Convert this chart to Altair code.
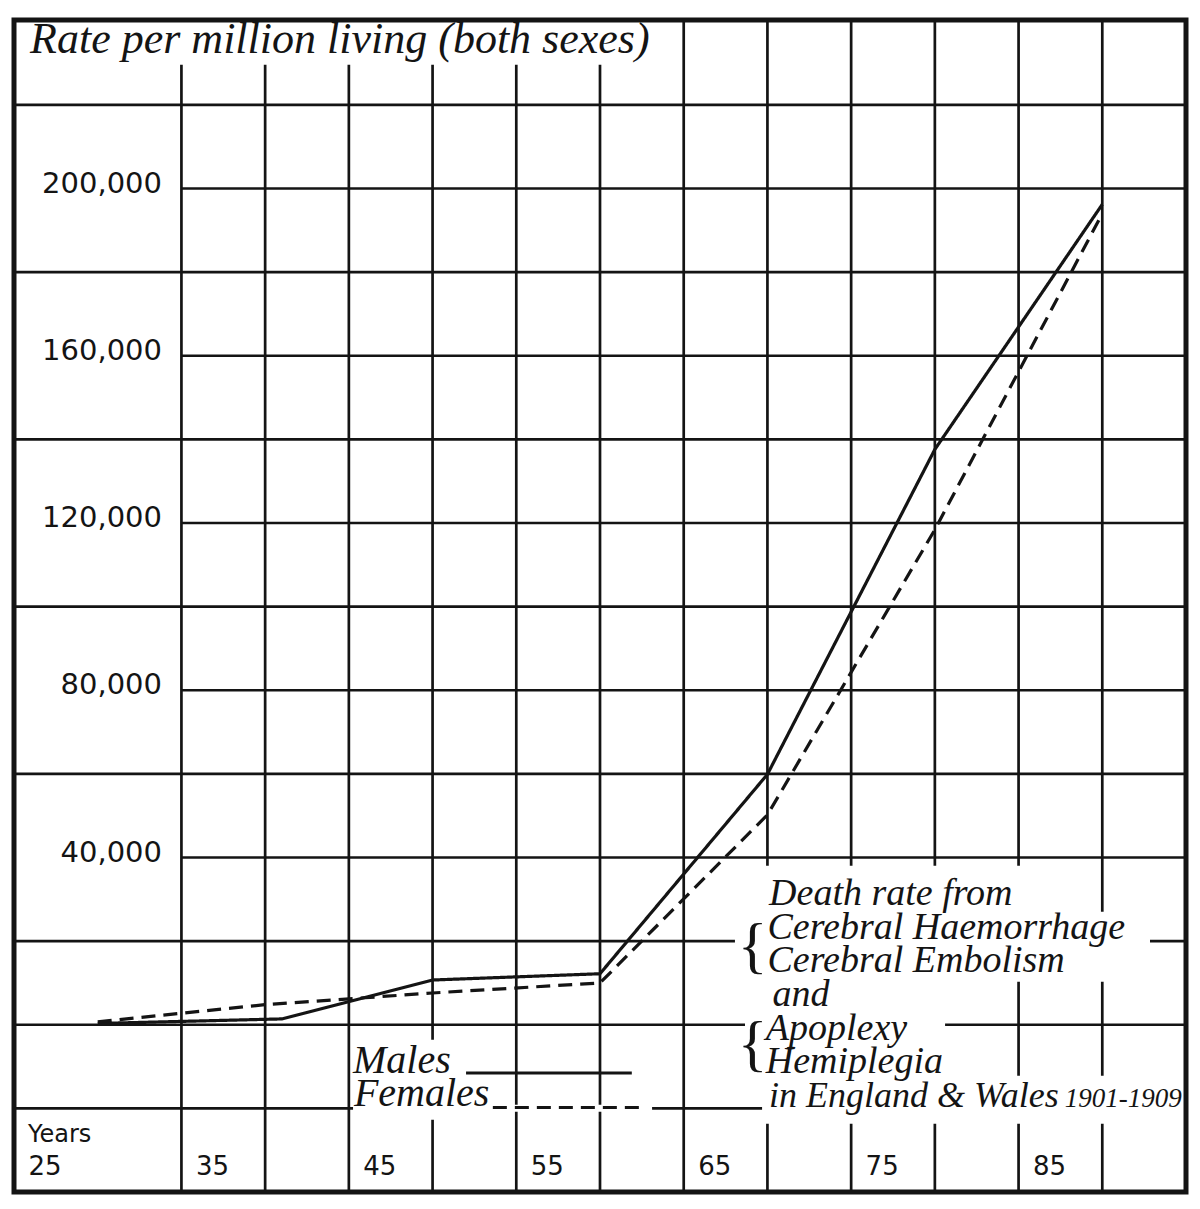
import altair as alt
import pandas as pd

# ---------------- values ----------------
ages_m = [30, 41, 50, 60, 70, 80, 90]
males = [300, 1400, 10700, 12200, 59900, 137600, 196200]
ages_f = [30, 40, 50, 60, 70, 80, 90]
females = [700, 4800, 7600, 10000, 50200, 118400, 194000]

y_tick_values = [40000, 80000, 120000, 160000, 200000]
x_tick_values = [25, 35, 45, 55, 65, 75, 85]
grid_rates = list(range(-20000, 220001, 20000))
grid_ages = list(range(35, 91, 5))

title_text = "Rate per million living (both sexes)"
x_title = "Years"
legend_names = ["Males", "Females"]
note_lines = ["Death rate from", "Cerebral Haemorrhage", "Cerebral Embolism",
              "and", "Apoplexy", "Hemiplegia"]
note_last = "in England & Wales"
note_period = "1901-1909"

# ---------------- layout (data units: age, rate) ----------------
W, H = 1172, 1172
INK = "#141414"
X = alt.Scale(domain=[25, 95], nice=False, zero=False)
Y = alt.Scale(domain=[-40000, 240300], nice=False, zero=False)

hgrid = pd.DataFrame({
    "rate": grid_rates,
    "start": [35 if r in y_tick_values else 25 for r in grid_rates],
    "end": [95] * len(grid_rates),
})
vgrid = pd.DataFrame({"age": grid_ages, "lo": -40000, "hi": 240300})

masks = pd.DataFrame({
    "x1": [25.0, 45.25, 53.55, 69.56, 68.06, 68.66, 68.66, 68.66, 68.66, 69.68],
    "x2": [63.88, 53.55, 63.11, 86.58, 92.85, 90.46, 80.61, 80.61, 81.98, 94.88],
    "y1": [229600, -22730, -20810, 26550, 18420, 10290, 2630, -5020, -12680, -23680],
    "y2": [240300, -3590, -19140, 38040, 27030, 18900, 10770, 3110, -4550, -12200],
})

series = pd.DataFrame(
    [{"sex": "Males", "age": a, "rate": v} for a, v in zip(ages_m, males)]
    + [{"sex": "Females", "age": a, "rate": v} for a, v in zip(ages_f, females)]
)

y_ticks = pd.DataFrame({"y": y_tick_values, "label": [f"{v:,}" for v in y_tick_values]})
x_ticks = pd.DataFrame({"x": x_tick_values, "label": [str(v) for v in x_tick_values]})

legend_lines = pd.DataFrame({"sex": legend_names, "x1": [52.0, 53.6],
                             "x2": [61.9, 62.4], "y": [-11560, -19800]})
legend_text = pd.DataFrame({"label": legend_names, "x": [45.25, 45.3],
                            "y": [-11560, -19540]})

note_df = pd.DataFrame({"label": note_lines,
                        "x": [70.1, 70.0, 70.0, 70.3, 69.9, 69.9],
                        "y": [28700, 20500, 12500, 4400, -3700, -11500]})
note_last_df = pd.DataFrame({"label": [note_last], "x": [70.1], "y": [-19600]})
period_df = pd.DataFrame({"label": [note_period], "x": [94.75], "y": [-19600]})
brace_df = pd.DataFrame({"label": ["{", "{"], "x": [70.0, 70.0], "y": [18660, -4780]})
title_df = pd.DataFrame({"label": [title_text], "x": [25.96], "y": [232500]})

dash = alt.StrokeDash("sex:N", scale=alt.Scale(domain=legend_names, range=[[1, 0], [14, 8]]),
                      legend=None)

h_layer = alt.Chart(hgrid).mark_rule(color=INK, strokeWidth=2.7).encode(
    x=alt.X("start:Q", scale=X, axis=None), x2="end:Q",
    y=alt.Y("rate:Q", scale=Y, axis=None))
v_layer = alt.Chart(vgrid).mark_rule(color=INK, strokeWidth=2.7).encode(
    x=alt.X("age:Q", scale=X, axis=None),
    y=alt.Y("lo:Q", scale=Y, axis=None), y2="hi:Q")
mask_layer = alt.Chart(masks).mark_rect(color="white").encode(
    x=alt.X("x1:Q", scale=X, axis=None), x2="x2:Q",
    y=alt.Y("y1:Q", scale=Y, axis=None), y2="y2:Q")
line_layer = alt.Chart(series).mark_line(color=INK, strokeWidth=3.2).encode(
    x=alt.X("age:Q", scale=X, axis=None),
    y=alt.Y("rate:Q", scale=Y, axis=None),
    detail="sex:N", strokeDash=dash)
legend_line_layer = alt.Chart(legend_lines).mark_rule(color=INK, strokeWidth=3).encode(
    x=alt.X("x1:Q", scale=X, axis=None), x2="x2:Q",
    y=alt.Y("y:Q", scale=Y, axis=None), strokeDash=dash)

# tick labels placed through the same scales
y_label_layer = alt.Chart(y_ticks).mark_text(
    font="DejaVu Sans", fontSize=29, align="right", baseline="middle",
    color=INK, dy=-5).encode(
    x=alt.value(148), y=alt.Y("y:Q", scale=Y, axis=None), text="label:N")
x_label_layer = alt.Chart(x_ticks).mark_text(
    font="DejaVu Sans", fontSize=26, align="center", baseline="middle",
    color=INK, dx=31).encode(
    x=alt.X("x:Q", scale=X, axis=None), y=alt.value(1147), text="label:N")
x_title_layer = alt.Chart(pd.DataFrame({"label": [x_title]})).mark_text(
    font="DejaVu Sans", fontSize=24, align="left", baseline="middle",
    color=INK).encode(x=alt.value(14), y=alt.value(1115), text="label:N")


def text_layer(df, font, size, style="italic", align="left", baseline="alphabetic"):
    return alt.Chart(df).mark_text(font=font, fontSize=size, fontStyle=style,
                                   align=align, baseline=baseline, color=INK).encode(
        x=alt.X("x:Q", scale=X, axis=None),
        y=alt.Y("y:Q", scale=Y, axis=None), text="label:N")


legend_text_layer = text_layer(legend_text, "Liberation Serif", 40)
note_layer = text_layer(note_df, "Liberation Serif", 38)
note_last_layer = text_layer(note_last_df, "Liberation Serif", 36)
period_layer = text_layer(period_df, "Liberation Serif", 27, align="right")
brace_layer = text_layer(brace_df, "Liberation Serif", 62, style="normal",
                         align="right", baseline="middle")
title_layer = text_layer(title_df, "Liberation Serif", 44)

frame = alt.Chart(pd.DataFrame({"k": [0]})).mark_rect(
    filled=False, stroke=INK, strokeWidth=5).encode(
    x=alt.value(0), x2=alt.value(W), y=alt.value(0), y2=alt.value(H))

chart = alt.layer(
    h_layer, v_layer, mask_layer, line_layer, legend_line_layer,
    y_label_layer, x_label_layer, x_title_layer,
    legend_text_layer, note_layer, note_last_layer, period_layer, brace_layer,
    title_layer, frame
).properties(
    width=W, height=H,
    padding={"left": 6, "top": 12, "right": 3, "bottom": 3},
    autosize=alt.AutoSizeParams(type="none"),
    background="white",
).configure_view(stroke=None)

chart.save("out.html", embed_options={"renderer": "svg", "actions": False})
